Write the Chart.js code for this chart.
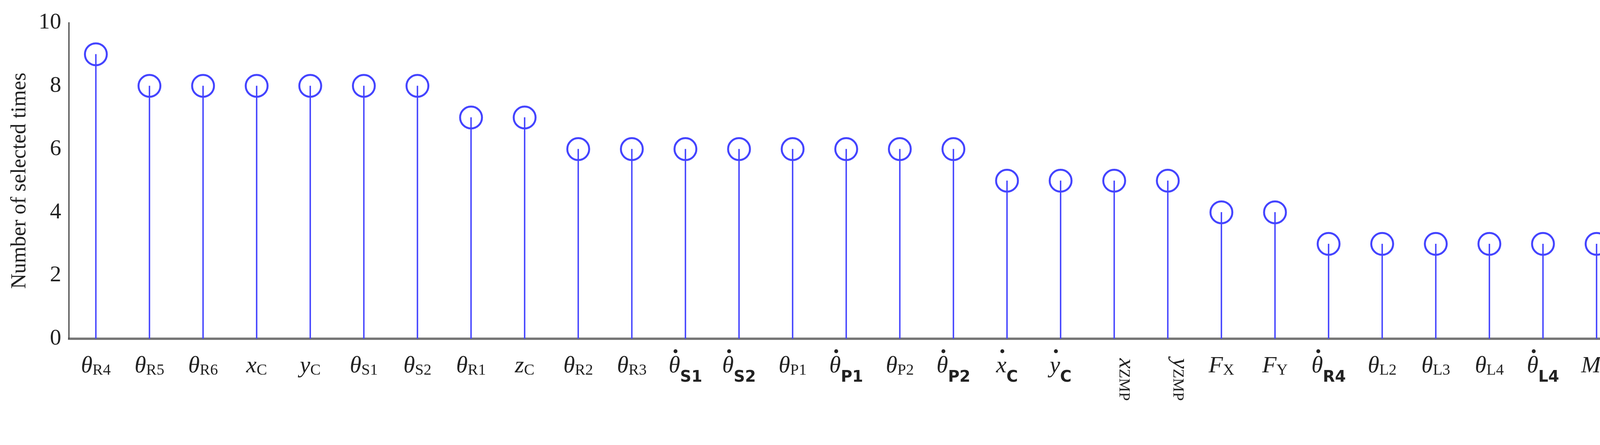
<!DOCTYPE html>
<html>
<head>
<meta charset="utf-8">
<script src="https://cdn.jsdelivr.net/npm/chart.js@4.4.1/dist/chart.umd.min.js"></script>
<style>
  html, body { margin: 0; padding: 0; background: #fff; overflow: hidden; }
  #wrap { width: 4370px; height: 1139px; }
  #myChart { width: 4370px; height: 1139px; display: block; }
</style>
</head>
<body>
<div id="wrap"><canvas id="myChart" width="4370" height="1139"></canvas></div>
<script>
// label parts: main symbol, subscript, dotted?, vertical?
const labelMain = ["θ","θ","θ","x","y","θ","θ","θ","z","θ","θ","θ","θ","θ","θ","θ","θ","x","y","x","y","F","F","θ","θ","θ","θ","θ","M","M"];
const labelSub  = ["R4","R5","R6","C","C","S1","S2","R1","C","R2","R3","S1","S2","P1","P1","P2","P2","C","C","ZMP","ZMP","X","Y","R4","L2","L3","L4","L4","X","Y"];
const labelDot  = [0,0,0,0,0,0,0,0,0,0,0,1,1,0,1,0,1,1,1,0,0,0,0,1,0,0,0,1,0,0];
const labelVert = [0,0,0,0,0,0,0,0,0,0,0,0,0,0,0,0,0,0,0,1,1,0,0,0,0,0,0,0,0,0];
const counts = [9,8,8,8,8,8,8,7,7,6,6,6,6,6,6,6,6,5,5,5,5,4,4,3,3,3,3,3,3,3];
const yTicks = [0,2,4,6,8,10];

const categories = labelMain.map((m, i) => m + labelSub[i]);
const blue = "#4444ff";

const labelPlugin = {
    id: "mathLabels",
    afterDraw(chart) {
        const ctx = chart.ctx;
        const xs = chart.scales.x;
        const top = chart.chartArea.bottom + 40;
        ctx.save();
        ctx.fillStyle = "#222";
        ctx.textBaseline = "alphabetic";
        for (let i = 0; i < categories.length; i++) {
            const x = xs.getPixelForValue(i);
            const main = labelMain[i];
            const sub = labelSub[i];
            const dot = labelDot[i];
            const mainFont = "italic 60px 'Liberation Serif', 'DejaVu Serif', serif";
            const subFont = (dot ? "bold 40px 'DejaVu Sans', sans-serif" : "40px 'Liberation Serif', serif");
            if (labelVert[i]) {
                ctx.save();
                ctx.translate(x + 14, top + 10);
                ctx.rotate(Math.PI / 2);
                ctx.font = mainFont;
                const mw = ctx.measureText(main).width;
                ctx.fillText(main, 0, 0);
                ctx.font = "40px 'Liberation Serif', serif";
                ctx.fillText(sub, mw, 0);
                ctx.restore();
                continue;
            }
            ctx.font = mainFont;
            const mw = ctx.measureText(main).width;
            ctx.font = subFont;
            const sw = ctx.measureText(sub).width;
            const x0 = x - (mw + sw) / 2;
            const base = top + 46;
            ctx.font = mainFont;
            ctx.fillText(main, x0, base);
            if (dot) {
                ctx.beginPath();
                ctx.arc(x0 + mw * 0.6, base - 54, 5, 0, Math.PI * 2);
                ctx.fill();
            }
            ctx.font = subFont;
            ctx.fillText(sub, x0 + mw, base + (dot ? 24 : 6));
        }
        ctx.restore();
    }
};

const ctx = document.getElementById("myChart").getContext("2d");
new Chart(ctx, {
    data: {
        labels: categories,
        datasets: [
            {
                type: "bar",
                data: counts,
                backgroundColor: blue,
                barThickness: 3
            },
            {
                type: "line",
                data: counts,
                showLine: false,
                pointStyle: "circle",
                pointRadius: 28,
                pointBorderWidth: 5,
                pointBorderColor: blue,
                pointBackgroundColor: "rgba(0,0,0,0)"
            }
        ]
    },
    options: {
        responsive: false,
        devicePixelRatio: 1,
        animation: false,
        layout: { padding: { top: 58, right: 20, bottom: 0, left: 14 } },
        plugins: { legend: { display: false }, tooltip: { enabled: false } },
        scales: {
            x: {
                offset: true,
                grid: { display: false, drawTicks: false },
                border: { color: "#777", width: 6 },
                ticks: { display: true, color: "rgba(0,0,0,0)", font: { size: 60 }, padding: 100, maxRotation: 0, autoSkip: false }
            },
            y: {
                min: 0,
                max: 10,
                afterBuildTicks(axis) { axis.ticks = yTicks.map(v => ({ value: v })); },
                grid: { display: false },
                border: { color: "#444", width: 3 },
                ticks: {
                    color: "#222",
                    padding: 12,
                    font: { size: 58, family: "'Liberation Serif', serif" }
                },
                title: {
                    display: true,
                    text: "Number of selected times",
                    color: "#222",
                    font: { size: 54, family: "'Liberation Serif', serif" }
                }
            }
        }
    },
    plugins: [labelPlugin]
});
</script>
</body>
</html>
